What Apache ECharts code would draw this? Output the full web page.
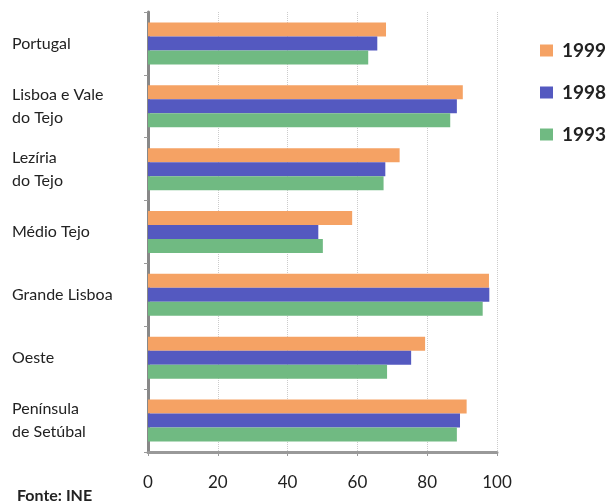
<!DOCTYPE html>
<html><head><meta charset="utf-8">
<script src="https://cdn.jsdelivr.net/npm/echarts@6/dist/echarts.min.js"></script>
<style>html,body{margin:0;padding:0;background:#fff}#c{width:613px;height:504px}</style>
</head><body><div id="c"></div>
<script>
const categories = ['Portugal', 'Lisboa e Vale\ndo Tejo', 'Lezíria\ndo Tejo', 'Médio Tejo', 'Grande Lisboa', 'Oeste', 'Península\nde Setúbal'];
const years = ['1999', '1998', '1993'];
const v1999 = [68.2, 90.2, 72.1, 58.5, 97.7, 79.4, 91.3];
const v1998 = [65.7, 88.5, 68.0, 48.8, 97.8, 75.4, 89.4];
const v1993 = [63.1, 86.6, 67.5, 50.1, 95.9, 68.5, 88.5];
const xTicks = [0, 20, 40, 60, 80, 100];
const colors = ['#F5A264', '#5459C0', '#70BA82'];
const FONT = 'Lato';
const chart = echarts.init(document.getElementById('c'), null, {renderer: 'canvas'});
const values = [v1999, v1998, v1993];
chart.setOption({
  animation: false,
  textStyle: {fontFamily: FONT},
  title: {text: 'Fonte: INE', left: 12, top: 483, textStyle: {fontFamily: FONT, fontSize: 16, fontWeight: 'bold', color: '#222'}},
  legend: {
    orient: 'vertical', left: 535, top: 36, itemWidth: 13, itemHeight: 12, itemGap: 23,
    icon: 'rect', data: years,
    textStyle: {fontFamily: FONT, fontSize: 19, fontWeight: 'bold', color: '#222', padding: [0, 0, 0, 4]}
  },
  grid: {left: 148, right: 116, top: 12, bottom: 52},
  xAxis: {
    type: 'value', min: xTicks[0], max: xTicks[xTicks.length - 1], interval: 20,
    axisLine: {show: true, lineStyle: {color: '#999', width: 3}},
    axisTick: {show: true, length: 4, lineStyle: {color: '#999'}},
    axisLabel: {fontFamily: FONT, fontSize: 17, color: '#222', margin: 22},
    splitLine: {show: true, lineStyle: {color: '#ccc', type: 'dotted'}}
  },
  yAxis: {
    type: 'category', data: categories, inverse: true,
    axisLine: {show: true, lineStyle: {color: '#888', width: 3}},
    axisTick: {show: true, length: 4, lineStyle: {color: '#999'}},
    axisLabel: {fontFamily: FONT, fontSize: 16, color: '#222', align: 'left', margin: 136, lineHeight: 23}
  },
  series: years.map((y, i) => ({
    name: y, type: 'bar', data: values[i], barWidth: 14, barGap: '0%',
    itemStyle: {color: colors[i]}
  }))
});
</script></body></html>
